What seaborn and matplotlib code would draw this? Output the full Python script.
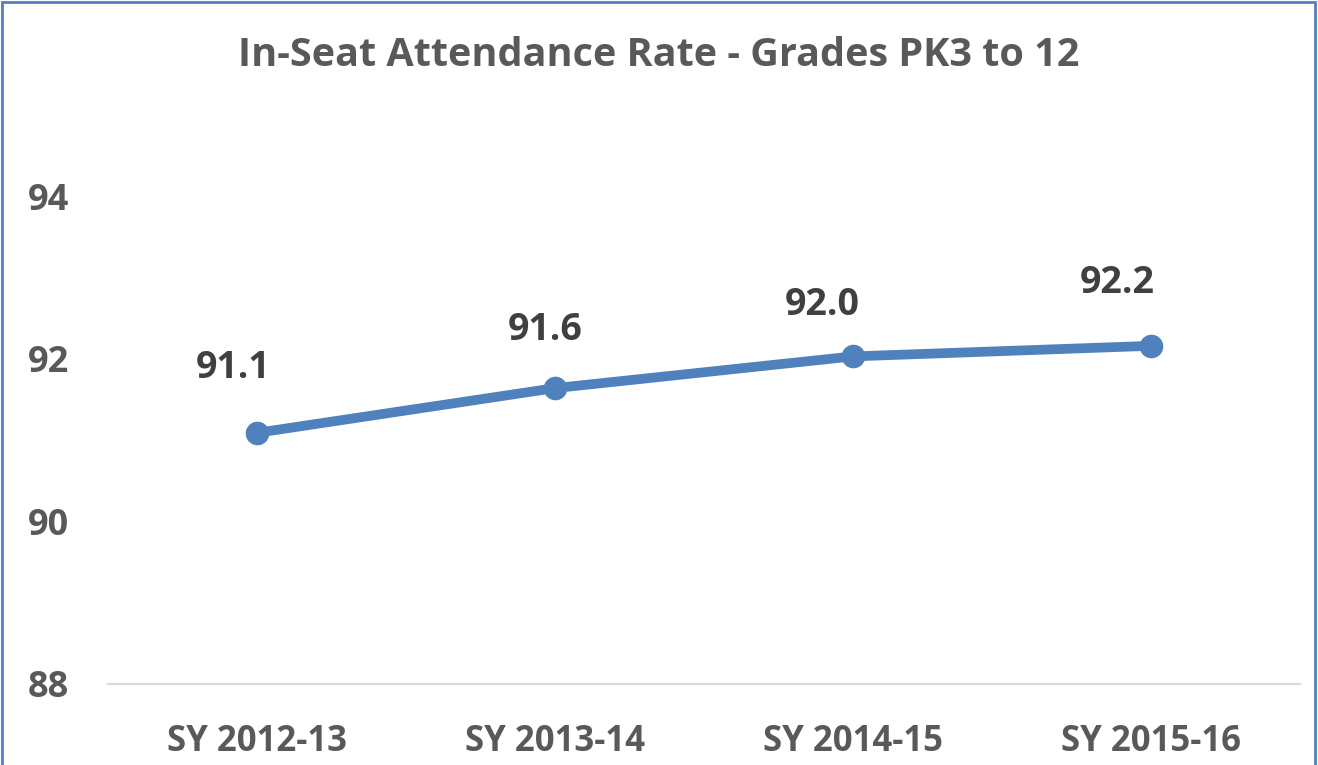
import matplotlib
matplotlib.use("Agg")
import matplotlib.pyplot as plt
import pandas as pd
import seaborn as sns
from matplotlib.patches import Rectangle

# ============================================================
# DATA
# ============================================================

school_years = ["SY 2012-13", "SY 2013-14", "SY 2014-15", "SY 2015-16"]
attendance   = [91.09, 91.64, 92.03, 92.16]
y_ticks      = [88, 90, 92, 94]
TITLE        = "In-Seat Attendance Rate - Grades PK3 to 12"

# ============================================================
# STYLE
# ============================================================

LINE_COLOR  = "#4F81BD"
TEXT_COLOR  = "#595959"
LABEL_COLOR = "#404040"
# label offsets (points) relative to each marker
LABEL_OFFSETS = [(-17, 47), (-7, 42), (-22, 37), (-24, 45)]

sns.set_theme(style="white")
plt.rcParams["font.family"] = ["Open Sans", "DejaVu Sans"]
plt.rcParams["font.weight"] = "bold"

df = pd.DataFrame({"year": school_years, "rate": attendance})

fig = plt.figure(figsize=(13.18, 7.65), dpi=100)
ax = fig.add_axes([0.082, 0.1059, 0.9043, 0.7438])

sns.lineplot(
    data=df, x="year", y="rate", ax=ax,
    color=LINE_COLOR, linewidth=7,
    marker="o", markersize=17, markeredgewidth=0,
    solid_capstyle="round",
)

for i, (yr, val) in enumerate(zip(school_years, attendance)):
    ax.annotate(
        f"{val:.1f}", xy=(i, val), xytext=LABEL_OFFSETS[i],
        textcoords="offset points", ha="center", va="center",
        fontsize=27, fontweight="bold", color=LABEL_COLOR,
    )

ax.set_xlim(-0.5, len(school_years) - 0.5)
ax.set_ylim(88, 95)
ax.set_yticks(y_ticks)
ax.set_xlabel("")
ax.set_ylabel("")

for side in ["top", "right", "left"]:
    ax.spines[side].set_visible(False)
ax.spines["bottom"].set_color("#D9D9D9")
ax.spines["bottom"].set_linewidth(1.5)

ax.tick_params(axis="y", labelsize=26, colors=TEXT_COLOR, length=0, pad=28)
ax.tick_params(axis="x", labelsize=25, colors=TEXT_COLOR, length=0, pad=29)
for lbl in ax.get_xticklabels() + ax.get_yticklabels():
    lbl.set_fontweight("bold")

fig.text(0.5, 0.928, TITLE, ha="center", va="center",
         fontsize=28.5, fontweight="bold", color=TEXT_COLOR)

# blue chart border
fig.patches.append(Rectangle((0.0015, -0.05), 0.9965, 1.048,
                             transform=fig.transFigure, fill=False,
                             edgecolor=LINE_COLOR, linewidth=2))

fig.savefig("out.png", dpi=100)
